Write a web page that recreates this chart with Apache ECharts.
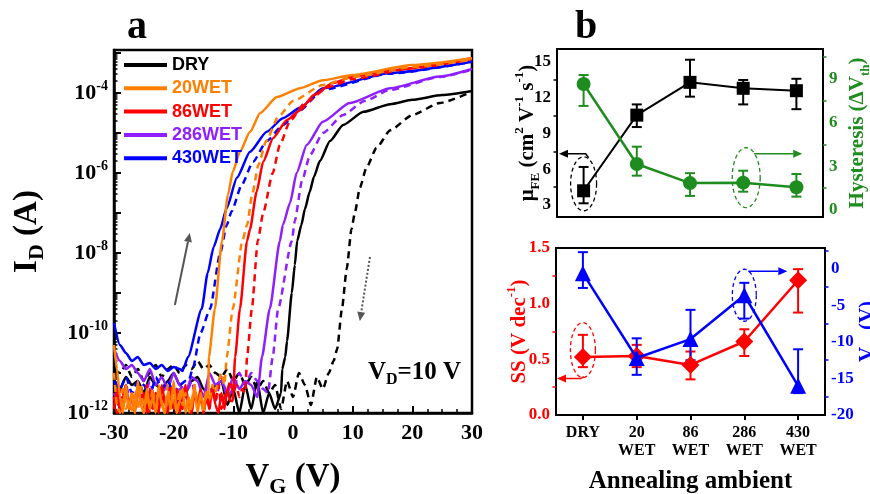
<!DOCTYPE html>
<html><head><meta charset="utf-8">
<script src="https://cdn.jsdelivr.net/npm/echarts@6/dist/echarts.min.js"></script>
<style>html,body{margin:0;padding:0;background:#fff}#c{width:870px;height:494px}</style>
</head><body><div id="c"></div>
<script>
const SERIF = '"Liberation Serif","Times New Roman",serif';
const SANS = '"Liberation Sans",Arial,sans-serif';

// ---------- Panel a : log10(I_D / A) versus V_G (V) ----------
const VG_FLOOR_START = -30;   // noise floor read from -30 V on a regular V_G grid
const FLOOR_STEP = 1;         // V per floor reading
const FLOOR_STEP_FINE = 0.5;  // finer reading for the busiest floors
const devices = ['DRY', '20WET', '86WET', '286WET', '430WET'];
const deviceColors = ['#000000', '#ff8000', '#ff0000', '#8f1fff', '#0000ff'];

const dry_fwd_floor = [-11.2,-11.4,-11.1,-11.3,-11.2,-11.5,-11.1,-11.3,-11.4,-11.2,-11.0,-11.3,-11.5,-11.2,-11.1,-11.4,-11.6,-11.3,-11.2,-11.8,-11.4,-12.0,-11.3,-11.9,-11.2,-12.0,-11.5,-11.9];
const dry_fwd_curve = [[-2.0,-11.5],[-1.8,-10.9],[-1.3,-10.6],[-1.0,-10.2],[-0.2,-9.0],[0.3,-8.3],[0.7,-7.7],[1.4,-7.3],[2.0,-6.9],[2.8,-6.47],[3.5,-6.1],[4.5,-5.7],[6.2,-5.2],[8.4,-4.8],[11.8,-4.47],[16.3,-4.28],[20,-4.17],[25,-4.05],[30,-3.95]];
const dry_rev_floor = [-10.9,-11.0,-10.8,-11.1,-10.9,-11.2,-11.0,-10.8,-11.1,-10.9,-10.8,-11.0,-10.8,-10.9,-10.7,-10.9,-10.8,-11.0,-11.1,-10.9,-11.2,-11.0,-11.3,-11.1,-11.4,-11.2,-11.5,-11.3,-11.9,-11.2,-11.6,-11.0,-11.3,-11.8,-11.1,-11.4,-11.0];
const dry_rev_curve = [[6.8,-10.7],[7.4,-10.4],[8.2,-9.4],[9.0,-8.4],[9.8,-7.4],[10.4,-6.97],[11.2,-6.37],[12.3,-5.87],[14,-5.37],[16.3,-4.93],[20,-4.55],[24.6,-4.25],[30,-3.97]];

const w20_fwd_floor = [-10.3,-10.9,-11.6,-12.0,-11.3,-11.9,-11.5,-12.0,-11.2,-11.8,-12.0,-11.4,-11.9,-11.6,-12.0,-11.3,-11.8,-12.0,-11.5,-11.9,-11.2,-12.0,-11.7,-11.4,-12.0,-11.6,-11.9,-11.3,-12.0,-11.5,-11.8,-11.6];
const w20_fwd_curve = [[-14.2,-11.6],[-14.1,-10.6],[-13.1,-9.4],[-11.9,-7.7],[-10.9,-6.55],[-10.1,-5.97],[-8.9,-5.47],[-7.2,-4.97],[-5.5,-4.5],[-2.7,-4.1],[1.2,-3.88],[5,-3.68],[10,-3.55],[20,-3.3],[30,-3.13]];
const w20_rev_floor = [-11.0,-11.8,-12.0,-11.4,-11.9,-11.7,-12.0,-11.5,-11.9,-11.3,-12.0,-11.6,-11.8,-11.4,-12.0,-11.5,-11.7,-12.0,-11.3,-11.9,-11.6,-12.0,-11.4,-11.8,-11.5,-12.0,-11.7,-11.3,-11.9,-11.6,-12.0,-11.4,-11.7,-11.3,-11.5,-11.2,-11.0];
const w20_rev_curve = [[-11.5,-11.3],[-11.1,-10.6],[-10.1,-9.4],[-8.5,-7.7],[-7.7,-7.3],[-6.8,-6.5],[-5.8,-5.8],[-4.5,-5.2],[-2.5,-4.6],[0,-4.2],[5,-3.8],[10,-3.6],[20,-3.35],[30,-3.17]];

const w86_fwd_floor = [-11.9,-11.4,-12.0,-11.6,-11.3,-11.9,-11.5,-12.0,-11.3,-11.8,-11.5,-12.0,-11.4,-11.9,-11.6,-12.0,-11.3,-11.7,-12.0,-11.5,-11.9,-11.4,-12.0,-11.6,-11.3,-11.9,-12.0,-11.5,-11.8,-11.4,-12.0,-11.6,-11.9,-11.3,-11.8,-12.0,-11.5,-11.9,-11.4,-11.7];
const w86_fwd_curve = [[-10.1,-11.7],[-9.7,-10.6],[-8.9,-9.4],[-7.7,-7.7],[-7.2,-7.4],[-6.1,-6.47],[-5.0,-5.72],[-3.35,-5.13],[-1.05,-4.68],[1.2,-4.43],[3.5,-4.05],[6.7,-3.75],[10,-3.59],[16.3,-3.43],[30,-3.13]];
const w86_rev_floor = [-11.6,-12.0,-11.4,-11.8,-11.3,-11.9,-11.5,-12.0,-11.6,-11.4,-11.9,-11.3,-12.0,-11.7,-11.5,-11.9,-11.4,-12.0,-11.6,-11.3,-11.8,-12.0,-11.5,-11.9,-11.4,-11.7,-12.0,-11.3,-11.8,-11.6,-12.0,-11.5,-11.9,-11.4,-11.7,-11.3,-11.9,-11.6,-11.4,-11.2,-11.5,-11.3,-11.6,-11.4];
const w86_rev_curve = [[-8.0,-11.5],[-7.7,-10.6],[-6.9,-9.4],[-5.9,-7.7],[-5.0,-7.0],[-3.4,-6.0],[-2.2,-5.3],[-0.5,-4.7],[2,-4.25],[6,-3.85],[10,-3.65],[20,-3.38],[30,-3.15]];

const w286_fwd_floor = [-10.4,-10.7,-10.9,-10.8,-11.0,-11.2,-10.9,-11.3,-11.1,-11.4,-11.0,-11.3,-11.5,-11.1,-11.2,-11.6,-11.0,-11.3,-11.2,-11.5,-11.1,-11.4,-11.2,-11.3];
const w286_fwd_curve = [[-6.0,-11.6],[-5.2,-10.6],[-3.9,-9.4],[-2.2,-7.7],[-1.7,-7.3],[-0.5,-6.75],[0.6,-6.0],[2.3,-5.3],[5,-4.72],[9.5,-4.25],[16.3,-3.88],[24.6,-3.59],[30,-3.4]];
const w286_rev_floor = [-11.5,-11.8,-11.3,-11.9,-11.4,-11.7,-11.2,-11.8,-11.5,-11.3,-11.9,-11.4,-11.6,-11.2,-11.8,-11.5,-11.3,-11.7,-11.1,-11.6,-11.4,-11.0,-11.3,-11.0,-11.2,-11.4];
const w286_rev_curve = [[-4.2,-11.5],[-3.4,-10.6],[-2.5,-9.4],[-0.2,-7.7],[0.3,-7.2],[1.5,-6.2],[2.85,-5.55],[5,-5.0],[8.4,-4.55],[12,-4.2],[16.3,-3.92],[24.6,-3.6],[30,-3.42]];

const w430_fwd_floor = [-9.75,-10.3,-10.5,-10.7,-10.6,-10.8,-10.75,-10.9,-10.8,-10.95,-10.85,-10.9];
const w430_fwd_curve = [[-18.5,-10.95],[-18.4,-10.9],[-17.6,-10.6],[-15.3,-9.4],[-14.3,-8.5],[-13.3,-7.85],[-12.2,-7.4],[-11.1,-6.87],[-9.4,-6.12],[-7.2,-5.47],[-4.4,-4.97],[-1.7,-4.63],[1.2,-4.37],[5,-3.88],[16.3,-3.5],[30,-3.22]];
const w430_rev_floor = [-11.2,-11.4,-11.1,-11.5,-11.2,-11.3,-11.6,-11.1,-11.4,-11.2,-11.5,-11.3,-11.2];
const w430_rev_curve = [[-17.5,-11.2],[-16.8,-10.9],[-15.5,-10.0],[-13.9,-9.4],[-12.2,-8.0],[-11.1,-7.3],[-10.3,-6.96],[-8.6,-6.3],[-6.7,-5.72],[-4.4,-5.2],[-1.7,-4.8],[1,-4.45],[5,-3.92],[16,-3.52],[30,-3.22]];

const a_x_ticks = [-30, -20, -10, 0, 10, 20, 30];
const a_y_label_exps = [-12, -10, -8, -6, -4];

// ---------- Panel b ----------
const ambients = ['DRY', '20\nWET', '86\nWET', '286\nWET', '430\nWET'];
const mobility    = [4.2, 10.55, 13.3, 12.8, 12.6];
const mobility_lo = [3.15, 9.55, 12.1, 11.45, 11.05];
const mobility_hi = [6.2, 11.45, 15.2, 13.5, 13.6];
const hysteresis    = [8.66, 3.16, 1.85, 1.88, 1.56];
const hysteresis_lo = [7.15, 2.36, 0.97, 1.26, 0.92];
const hysteresis_hi = [9.27, 4.35, 2.53, 2.7, 2.47];
const ss    = [0.52, 0.53, 0.45, 0.66, 1.21];
const ss_lo = [0.43, 0.43, 0.32, 0.53, 0.92];
const ss_hi = [0.72, 0.63, 0.57, 0.77, 1.31];
const vth    = [-0.6, -12.2, -9.6, -3.6, -16.0];
const vth_lo = [-2.6, -14.5, -12.5, -6.8, -17.0];
const vth_hi = [2.3, -9.5, -5.6, -1.9, -11.0];

const mu_ticks = [3, 6, 9, 12, 15];
const hyst_ticks = [0, 3, 6, 9];
const ss_ticks = [0, 0.5, 1.0, 1.5];
const vth_ticks = [-20, -15, -10, -5, 0];

const GREEN = '#1e8c1e', RED = '#ff0000', BLUE = '#0000ff', BLACK = '#000000';

// ---------- build ----------
function withFloor(floor, step, curve) {
  return floor.map((v, i) => [VG_FLOOR_START + i * step, v]).concat(curve);
}
const transfer = [
  [dry_fwd_floor, FLOOR_STEP, dry_fwd_curve, dry_rev_floor, FLOOR_STEP, dry_rev_curve],
  [w20_fwd_floor, FLOOR_STEP_FINE, w20_fwd_curve, w20_rev_floor, FLOOR_STEP_FINE, w20_rev_curve],
  [w86_fwd_floor, FLOOR_STEP_FINE, w86_fwd_curve, w86_rev_floor, FLOOR_STEP_FINE, w86_rev_curve],
  [w286_fwd_floor, FLOOR_STEP, w286_fwd_curve, w286_rev_floor, FLOOR_STEP, w286_rev_curve],
  [w430_fwd_floor, FLOOR_STEP, w430_fwd_curve, w430_rev_floor, FLOOR_STEP, w430_rev_curve]
];
const drawOrder = [0, 3, 4, 2, 1];
const seriesA = [];
drawOrder.forEach(k => {
  const t = transfer[k];
  seriesA.push({ name: devices[k], type: 'line', xAxisIndex: 0, yAxisIndex: 0, data: withFloor(t[0], t[1], t[2]),
    symbol: 'none', smooth: 0.2, smoothMonotone: 'x', lineStyle: { color: deviceColors[k], width: 2.5 },
    itemStyle: { color: deviceColors[k] }, z: 2 });
  seriesA.push({ name: devices[k] + ' reverse', type: 'line', xAxisIndex: 0, yAxisIndex: 0, data: withFloor(t[3], t[4], t[5]),
    symbol: 'none', smooth: 0.2, smoothMonotone: 'x', lineStyle: { color: deviceColors[k], width: 2.5, type: [7, 5] },
    itemStyle: { color: deviceColors[k] }, z: 2 });
});

function rich(color, size, subSize) {
  return {
    m: { fontFamily: SERIF, fontWeight: 'bold', fontSize: size, color: color, lineHeight: size + 8 },
    sub: { fontFamily: SERIF, fontWeight: 'bold', fontSize: subSize, color: color, lineHeight: subSize, verticalAlign: 'bottom' },
    sup: { fontFamily: SERIF, fontWeight: 'bold', fontSize: subSize, color: color, lineHeight: subSize, verticalAlign: 'top' }
  };
}
function labelStyle(color, size) {
  return { fontFamily: SERIF, fontWeight: 'bold', fontSize: size, color: color };
}
function minorAxis(grid, pos, min, max, vals, color, inside) {
  return { type: 'value', gridIndex: grid, position: pos, min: min, max: max,
    axisLine: { show: false, onZero: false }, axisLabel: { show: false }, splitLine: { show: false },
    axisTick: { show: true, inside: !!inside, length: 3.5, customValues: vals, lineStyle: { color: color, width: 1.5 } } };
}
const aMajor = [], aMinor = [];
for (let n = -12; n <= -3; n++) {
  aMajor.push(n);
  for (let k = 2; k <= 9; k++) { const v = n + Math.log10(k); if (v <= -2.925) aMinor.push(v); }
}

function errSeries(xi, yi, lo, hi, color) {
  return { type: 'custom', xAxisIndex: xi, yAxisIndex: yi, silent: true, z: 2,
    data: lo.map((l, i) => [i, l, hi[i]]),
    renderItem: function (params, api) {
      const x = api.value(0);
      const p1 = api.coord([x, api.value(1)]), p2 = api.coord([x, api.value(2)]);
      const w = 5, st = { stroke: color, lineWidth: 2 };
      return { type: 'group', children: [
        { type: 'line', shape: { x1: p1[0], y1: p1[1], x2: p2[0], y2: p2[1] }, style: st },
        { type: 'line', shape: { x1: p1[0] - w, y1: p1[1], x2: p1[0] + w, y2: p1[1] }, style: st },
        { type: 'line', shape: { x1: p2[0] - w, y1: p2[1], x2: p2[0] + w, y2: p2[1] }, style: st }
      ] };
    } };
}

const gridBase = { show: true, borderColor: '#000', containLabel: false, outerBoundsMode: 'none' };
const option = {
  animation: false,
  backgroundColor: '#fff',
  grid: [
    Object.assign({ left: 114, top: 50, width: 358, height: 363, borderWidth: 2.5 }, gridBase),
    Object.assign({ left: 557, top: 49, width: 266, height: 168, borderWidth: 2 }, gridBase),
    Object.assign({ left: 556, top: 248, width: 269, height: 167, borderWidth: 2 }, gridBase)
  ],
  legend: {
    orient: 'vertical', left: 119, top: 50, itemWidth: 43, itemHeight: 4, itemGap: 3.3, icon: 'rect',
    selectedMode: false,
    textStyle: { fontFamily: SANS, fontWeight: 'bold', fontSize: 18, lineHeight: 20 },
    data: devices.map((d, i) => ({ name: d, textStyle: { color: deviceColors[i] } }))
  },
  xAxis: [
    { type: 'value', gridIndex: 0, min: -30, max: 30, interval: 10,
      axisLine: { onZero: false, lineStyle: { color: '#000', width: 2.5 } },
      axisTick: { inside: true, length: 7, lineStyle: { color: '#000', width: 2 } },
      minorTick: { show: true, splitNumber: 4, length: 4, lineStyle: { color: '#000', width: 1.5 } },
      splitLine: { show: false }, minorSplitLine: { show: false },
      axisLabel: Object.assign({ margin: 9, customValues: a_x_ticks }, labelStyle('#000', 22)),
      name: '{m|V}{sub|G}{m| (V)}', nameLocation: 'middle', nameGap: 44, nameMoveOverlap: false,
      nameTextStyle: { rich: rich('#000', 33, 22) } },
    { type: 'category', gridIndex: 1, data: ambients, boundaryGap: true,
      axisLine: { onZero: false, lineStyle: { color: '#000', width: 2 } }, axisTick: { show: false }, axisLabel: { show: false } },
    { type: 'category', gridIndex: 2, data: ambients, boundaryGap: true,
      axisLine: { onZero: false, lineStyle: { color: '#000', width: 2 } },
      axisTick: { show: true, alignWithLabel: true, length: 5, lineStyle: { color: '#000', width: 2 } },
      axisLabel: Object.assign({ margin: 9, lineHeight: 18, interval: 0 }, labelStyle('#000', 16)),
      name: 'Annealing ambient', nameLocation: 'middle', nameGap: 54, nameMoveOverlap: false,
      nameTextStyle: { fontFamily: SERIF, fontWeight: 'bold', fontSize: 25, color: '#000' } }
  ],
  yAxis: [
    { type: 'value', gridIndex: 0, position: 'left', min: -12, max: -2.925,
      axisLine: { onZero: false, lineStyle: { color: '#000', width: 2.5 } },
      axisTick: { inside: true, length: 7, customValues: aMajor, lineStyle: { color: '#000', width: 2 } },
      splitLine: { show: false },
      axisLabel: { margin: 6, customValues: a_y_label_exps,
        formatter: v => '{b|10}{s|' + Math.round(v) + '}',
        rich: { b: { fontFamily: SERIF, fontWeight: 'bold', fontSize: 22, color: '#000', lineHeight: 28 },
                s: { fontFamily: SERIF, fontWeight: 'bold', fontSize: 14, color: '#000', lineHeight: 14, verticalAlign: 'top' } } },
      name: '{m|I}{sub|D}{m| (A)}', nameLocation: 'middle', nameGap: 66, nameRotate: 90, nameMoveOverlap: false,
      nameTextStyle: { rich: rich('#000', 33, 22) } },
    minorAxis(0, 'left', -12, -2.925, aMinor, '#000', true),
    { type: 'value', gridIndex: 1, position: 'left', min: 2, max: 16.1,
      axisLine: { onZero: false, lineStyle: { color: BLACK, width: 2 } },
      axisTick: { length: 5, customValues: mu_ticks, lineStyle: { color: BLACK, width: 2 } },
      splitLine: { show: false },
      axisLabel: Object.assign({ margin: 6, customValues: mu_ticks }, labelStyle(BLACK, 17)),
      name: '{m|μ}{sub|FE}{m| (cm}{sup|2}{m| V}{sup|-1}{m| s}{sup|-1}{m|)}', nameLocation: 'middle', nameGap: 15, nameRotate: 90,
      nameMoveOverlap: false, nameTextStyle: { rich: rich(BLACK, 21, 13) } },
    minorAxis(1, 'left', 2, 16.1, [4.5, 7.5, 10.5, 13.5], BLACK, false),
    { type: 'value', gridIndex: 1, position: 'right', min: -0.48, max: 11.06,
      axisLine: { onZero: false, lineStyle: { color: GREEN, width: 2 } },
      axisTick: { length: 5, customValues: hyst_ticks, lineStyle: { color: GREEN, width: 2 } },
      splitLine: { show: false },
      axisLabel: Object.assign({ margin: 6, customValues: hyst_ticks }, labelStyle(GREEN, 17)),
      name: '{m|Hysteresis (ΔV}{sub|th}{m|)}', nameLocation: 'middle', nameGap: 20, nameRotate: 90,
      nameMoveOverlap: false, nameTextStyle: { rich: rich(GREEN, 21, 13) } },
    minorAxis(1, 'right', -0.48, 11.06, [1.5, 4.5, 7.5, 10.5], GREEN, false),
    { type: 'value', gridIndex: 2, position: 'left', min: 0, max: 1.5,
      axisLine: { onZero: false, lineStyle: { color: RED, width: 2 } },
      axisTick: { length: 5, customValues: ss_ticks, lineStyle: { color: RED, width: 2 } },
      splitLine: { show: false },
      axisLabel: Object.assign({ margin: 6, customValues: ss_ticks, formatter: v => v.toFixed(1) }, labelStyle(RED, 17)),
      name: '{m|SS (V dec}{sup|-1}{m|)}', nameLocation: 'middle', nameGap: 22, nameRotate: 90,
      nameMoveOverlap: false, nameTextStyle: { rich: rich(RED, 21, 13) } },
    minorAxis(2, 'left', 0, 1.5, [0.25, 0.75, 1.25], RED, false),
    { type: 'value', gridIndex: 2, position: 'right', min: -20, max: 2.87,
      axisLine: { onZero: false, lineStyle: { color: BLUE, width: 2 } },
      axisTick: { length: 5, customValues: vth_ticks, lineStyle: { color: BLUE, width: 2 } },
      splitLine: { show: false },
      axisLabel: Object.assign({ margin: 6, customValues: vth_ticks }, labelStyle(BLUE, 17)),
      name: '{m|V}{sub|th}{m| (V)}', nameLocation: 'middle', nameGap: 28, nameRotate: 90,
      nameMoveOverlap: false, nameTextStyle: { rich: rich(BLUE, 21, 13) } },
    minorAxis(2, 'right', -20, 2.87, [-17.5, -12.5, -7.5, -2.5, 2.5], BLUE, false)
  ],
  series: seriesA.concat([
    errSeries(1, 2, mobility_lo, mobility_hi, BLACK),
    { name: 'mu', type: 'line', xAxisIndex: 1, yAxisIndex: 2, data: mobility, symbol: 'rect', symbolSize: 13,
      lineStyle: { color: BLACK, width: 2 }, itemStyle: { color: BLACK }, z: 3 },
    errSeries(1, 4, hysteresis_lo, hysteresis_hi, GREEN),
    { name: 'hyst', type: 'line', xAxisIndex: 1, yAxisIndex: 4, data: hysteresis, symbol: 'circle', symbolSize: 14,
      lineStyle: { color: GREEN, width: 2.5 }, itemStyle: { color: GREEN }, z: 3 },
    errSeries(2, 6, ss_lo, ss_hi, RED),
    { name: 'ss', type: 'line', xAxisIndex: 2, yAxisIndex: 6, data: ss, symbol: 'diamond', symbolSize: 18,
      lineStyle: { color: RED, width: 2.5 }, itemStyle: { color: RED }, z: 3 },
    errSeries(2, 8, vth_lo, vth_hi, BLUE),
    { name: 'vth', type: 'line', xAxisIndex: 2, yAxisIndex: 8, data: vth, symbol: 'triangle', symbolSize: 16,
      lineStyle: { color: BLUE, width: 2.5 }, itemStyle: { color: BLUE }, z: 4 }
  ])
};

const chart = echarts.init(document.getElementById('c'));
chart.setOption(option);

// ---------- annotations ----------
function P(xi, yi, x, y) { return chart.convertToPixel({ xAxisIndex: xi, yAxisIndex: yi }, [x, y]); }
function ellipse(cx, cy, rx, ry, color) {
  const pts = [];
  for (let i = 0; i < 48; i++) { const t = i / 48 * Math.PI * 2; pts.push([cx + rx * Math.cos(t), cy + ry * Math.sin(t)]); }
  return { type: 'polygon', shape: { points: pts }, style: { fill: 'none', stroke: color, lineWidth: 1.3, lineDash: [4, 3] }, z: 10 };
}
function arrow(pts, color, dash, width) {
  const a = pts[pts.length - 2], b = pts[pts.length - 1];
  const ang = Math.atan2(b[1] - a[1], b[0] - a[0]);
  const L = 9, W = 4;
  const base = [b[0] - L * Math.cos(ang), b[1] - L * Math.sin(ang)];
  const head = [b, [base[0] + W * Math.sin(ang), base[1] - W * Math.cos(ang)], [base[0] - W * Math.sin(ang), base[1] + W * Math.cos(ang)]];
  const linePts = pts.slice(0, -1).concat([base]);
  return [
    { type: 'polyline', shape: { points: linePts }, style: { stroke: color, lineWidth: width || 1.5, lineDash: dash || null, fill: 'none' }, z: 10 },
    { type: 'polygon', shape: { points: head }, style: { fill: color }, z: 10 }
  ];
}
const g = [];
// panel letters
g.push({ type: 'text', x: 137, y: 28, style: { text: 'a', font: 'bold 40px ' + SERIF, fill: '#000', align: 'center', verticalAlign: 'middle' }, z: 10 });
g.push({ type: 'text', x: 586, y: 28, style: { text: 'b', font: 'bold 40px ' + SERIF, fill: '#000', align: 'center', verticalAlign: 'middle' }, z: 10 });
// V_D label
g.push({ type: 'text', x: 368, y: 373, style: { text: '{m|V}{s|D}{m|=10 V}', verticalAlign: 'middle',
  rich: { m: { font: 'bold 25px ' + SERIF, fill: '#000', lineHeight: 30 }, s: { font: 'bold 16px ' + SERIF, fill: '#000', lineHeight: 16, verticalAlign: 'bottom' } } }, z: 10 });
// sweep arrows in panel a
g.push(...arrow([P(0, 0, -19.8, -9.3), P(0, 0, -17.3, -7.5)], '#555', null, 2));
g.push(...arrow([P(0, 0, 12.9, -8.1), P(0, 0, 11.2, -9.7)], '#555', [2, 2], 2));
// panel b ellipses + arrows
{
  const p = P(1, 2, 0, mobility[0]); const cx = p[0], cy = p[1] - 7, rx = 13, ry = 27;
  g.push(ellipse(cx, cy, rx, ry, BLACK));
  g.push(...arrow([[cx + 5, cy - ry + 1], [cx + 2, cy - ry - 3], [559, cy - ry - 3]], BLACK, null, 1.5));
}
{
  const p = P(1, 4, 3, hysteresis[3]); const cx = p[0] + 3, cy = p[1] - 5, rx = 14, ry = 30;
  g.push(ellipse(cx, cy, rx, ry, GREEN));
  g.push(...arrow([[cx + 8, cy - 24], [cx + 56, cy - 24]], GREEN, null, 1.5));
}
{
  const p = P(2, 6, 0, ss[0]); const cx = p[0], cy = p[1] - 7, rx = 12.5, ry = 27.5;
  g.push(ellipse(cx, cy, rx, ry, RED));
  g.push(...arrow([[cx + 1, cy + ry - 1], [cx - 2, cy + ry + 1], [557, cy + ry + 1]], RED, null, 1.5));
}
{
  const p = P(2, 8, 3, vth[3]); const cx = p[0], cy = p[1], rx = 12, ry = 26;
  g.push(ellipse(cx, cy, rx, ry, BLUE));
  g.push(...arrow([[cx + 4, cy - ry + 2], [cx + 43, cy - ry + 2]], BLUE, null, 1.5));
}
chart.setOption({ graphic: g });
</script></body></html>
